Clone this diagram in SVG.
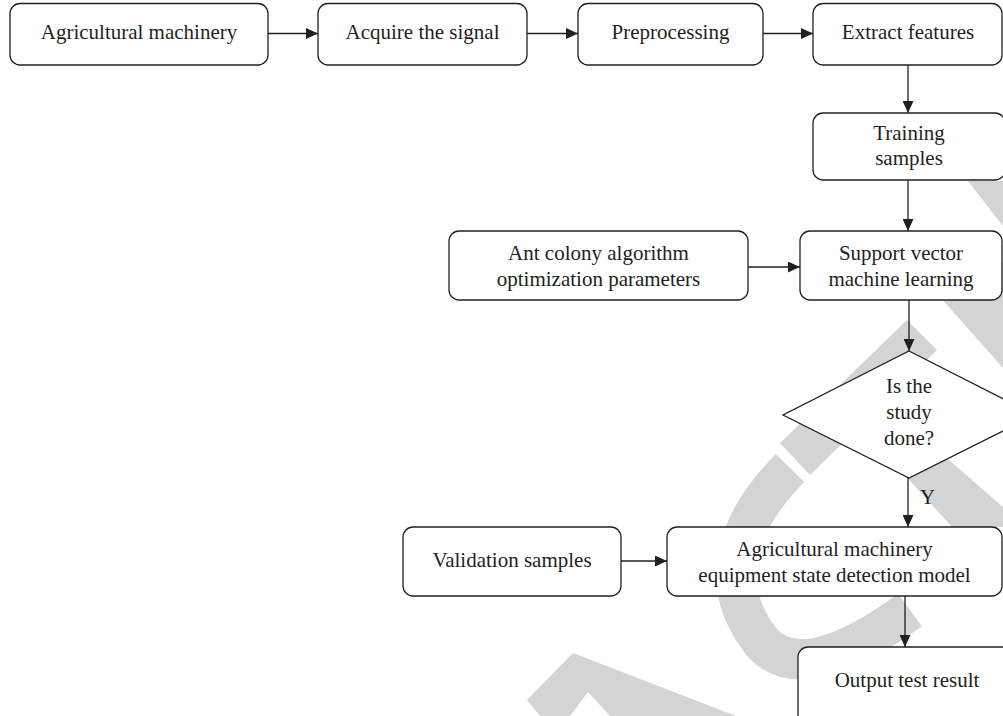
<svg xmlns="http://www.w3.org/2000/svg" width="1003" height="716" viewBox="0 0 1003 716">
<defs>
<marker id="ah" markerUnits="userSpaceOnUse" markerWidth="12" markerHeight="11" refX="12" refY="5.5" orient="auto">
<path d="M0,0 L12,5.5 L0,11 z" fill="#231f20"/>
</marker>
<style>
.wm{fill:#d4d4d4;stroke:none}
.wms{fill:none;stroke:#d4d4d4}
.box{fill:#ffffff;stroke:#231f20;stroke-width:1.3}
.t{font-family:"Liberation Serif","Times New Roman",serif;font-size:21px;fill:#231f20;text-anchor:middle}
.c{stroke:#231f20;stroke-width:1.3;fill:none;marker-end:url(#ah)}
</style>
</defs>
<rect width="1003" height="716" fill="#ffffff"/>
<g id="watermark">
<polygon class="wm" points="968,181 1003,181 1003,226"/>
<polygon class="wm" points="925,280 1003,262 1003,368"/>
<polygon class="wm" points="907,320 937,350 810,475 780,443"/>
<polygon class="wm" points="882,450 926,440 1003,507 1003,527 952,527"/>
<path class="wms" d="M790,468 Q700,560 760,640 Q800,690 910,610" stroke-width="40"/>
<polygon class="wm" points="527,700 573,653 736,716 610,716 588,692 570,716 540,716"/>
</g>
<g id="connectors">
<line class="c" x1="268" y1="33.5" x2="318" y2="33.5"/>
<line class="c" x1="527" y1="33.5" x2="578" y2="33.5"/>
<line class="c" x1="763" y1="33.5" x2="813" y2="33.5"/>
<line class="c" x1="908" y1="65" x2="908" y2="113"/>
<line class="c" x1="908" y1="180" x2="908" y2="231"/>
<line class="c" x1="748" y1="267" x2="800" y2="267"/>
<line class="c" x1="909" y1="300" x2="909" y2="351"/>
<line class="c" x1="908" y1="478" x2="908" y2="527"/>
<line class="c" x1="621" y1="561" x2="667" y2="561"/>
<line class="c" x1="905" y1="596" x2="905" y2="647"/>
<text class="t" x="920" y="504" style="text-anchor:start">Y</text>
</g>
<g id="n1"><rect class="box" x="10" y="3.5" width="258" height="61.5" rx="10"/><text class="t" x="139" y="39">Agricultural machinery</text></g>
<g id="n2"><rect class="box" x="318" y="3.5" width="209" height="61.5" rx="10"/><text class="t" x="422.5" y="39">Acquire the signal</text></g>
<g id="n3"><rect class="box" x="578" y="3.5" width="185" height="61.5" rx="10"/><text class="t" x="670.5" y="39">Preprocessing</text></g>
<g id="n4"><rect class="box" x="813" y="3.5" width="189" height="61.5" rx="10"/><text class="t" x="908" y="39">Extract features</text></g>
<g id="n5"><rect class="box" x="813" y="113" width="192" height="67" rx="10"/><text class="t" x="909" y="140">Training</text><text class="t" x="909" y="165">samples</text></g>
<g id="n6"><rect class="box" x="449" y="231" width="299" height="69" rx="10"/><text class="t" x="598.5" y="259.5">Ant colony algorithm</text><text class="t" x="598.5" y="285.5">optimization parameters</text></g>
<g id="n7"><rect class="box" x="800" y="231" width="202" height="69" rx="10"/><text class="t" x="901" y="259.5">Support vector</text><text class="t" x="901" y="285.5">machine learning</text></g>
<g id="n8"><polygon class="box" points="909,351 1035,415 909,478 783,415"/><text class="t" x="909" y="393">Is the</text><text class="t" x="909" y="419">study</text><text class="t" x="909" y="445">done?</text></g>
<g id="n9"><rect class="box" x="403" y="527" width="218" height="69" rx="10"/><text class="t" x="512" y="567">Validation samples</text></g>
<g id="n10"><rect class="box" x="667" y="527" width="335" height="69" rx="10"/><text class="t" x="834.5" y="555.5">Agricultural machinery</text><text class="t" x="834.5" y="581.5">equipment state detection model</text></g>
<g id="n11"><rect class="box" x="798" y="647" width="218" height="80" rx="10"/><text class="t" x="907" y="687">Output test result</text></g>
</svg>
